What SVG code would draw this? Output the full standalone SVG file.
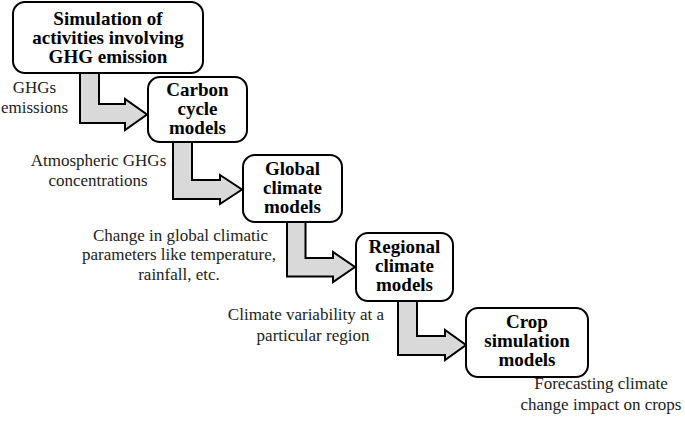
<svg xmlns="http://www.w3.org/2000/svg" width="685" height="423" viewBox="0 0 685 423">
<style>
.box{fill:#fff;stroke:#000;stroke-width:2}
.arr{fill:#d9d9d9;stroke:#000;stroke-width:2;stroke-linejoin:miter}
.t{font-family:"Liberation Serif",serif;font-weight:bold;font-size:19px;text-anchor:middle;fill:#000}
.l{font-family:"Liberation Serif",serif;font-size:17px;text-anchor:middle;fill:#222}
</style>
<rect width="685" height="423" fill="#fff"/>
<g id="connectors">
<path class="arr" d="M80,72 L80,123 L125,123 L125,130 L147,114.5 L125,99 L125,104 L99,104 L99,72 Z"/>
<path class="arr" d="M173,141 L173,199 L220,199 L220,204 L242,189.5 L220,175 L220,180 L192,180 L192,141 Z"/>
<path class="arr" d="M287,221 L287,276.5 L333,276.5 L333,282 L355,267 L333,252 L333,258 L305.5,258 L305.5,221 Z"/>
<path class="arr" d="M398,300 L398,355 L445,355 L445,360 L466,345 L445,330 L445,336 L417,336 L417,300 Z"/>
</g>
<g id="n1"><rect class="box" x="13" y="2" width="190" height="71" rx="12"/>
<text class="t" x="108" y="25">Simulation of</text><text class="t" x="108" y="44">activities involving</text><text class="t" x="108" y="63">GHG emission</text></g>
<g id="n2"><rect class="box" x="148" y="77" width="99" height="65" rx="12"/>
<text class="t" x="197.5" y="96">Carbon</text><text class="t" x="197.5" y="115">cycle</text><text class="t" x="197.5" y="134">models</text></g>
<g id="n3"><rect class="box" x="243" y="155" width="99" height="67" rx="12"/>
<text class="t" x="292.5" y="175">Global</text><text class="t" x="292.5" y="194">climate</text><text class="t" x="292.5" y="213">models</text></g>
<g id="n4"><rect class="box" x="356" y="233" width="97" height="68" rx="12"/>
<text class="t" x="404.5" y="253">Regional</text><text class="t" x="404.5" y="272">climate</text><text class="t" x="404.5" y="291">models</text></g>
<g id="n5"><rect class="box" x="466" y="308" width="122" height="69" rx="12"/>
<text class="t" x="527" y="328">Crop</text><text class="t" x="527" y="347">simulation</text><text class="t" x="527" y="366">models</text></g>
<g id="labels">
<text class="l" x="34.5" y="93">GHGs</text><text class="l" x="34.5" y="113">emissions</text>
<text class="l" x="98.5" y="166">Atmospheric GHGs</text><text class="l" x="98" y="186">concentrations</text>
<text class="l" x="180.5" y="240.5">Change in global climatic</text><text class="l" x="179" y="260">parameters like temperature,</text><text class="l" x="179" y="280">rainfall, etc.</text>
<text class="l" x="306" y="320">Climate variability at a</text><text class="l" x="313" y="341">particular region</text>
<text class="l" x="601" y="389">Forecasting climate</text><text class="l" x="601" y="410">change impact on crops</text>
</g>
</svg>
